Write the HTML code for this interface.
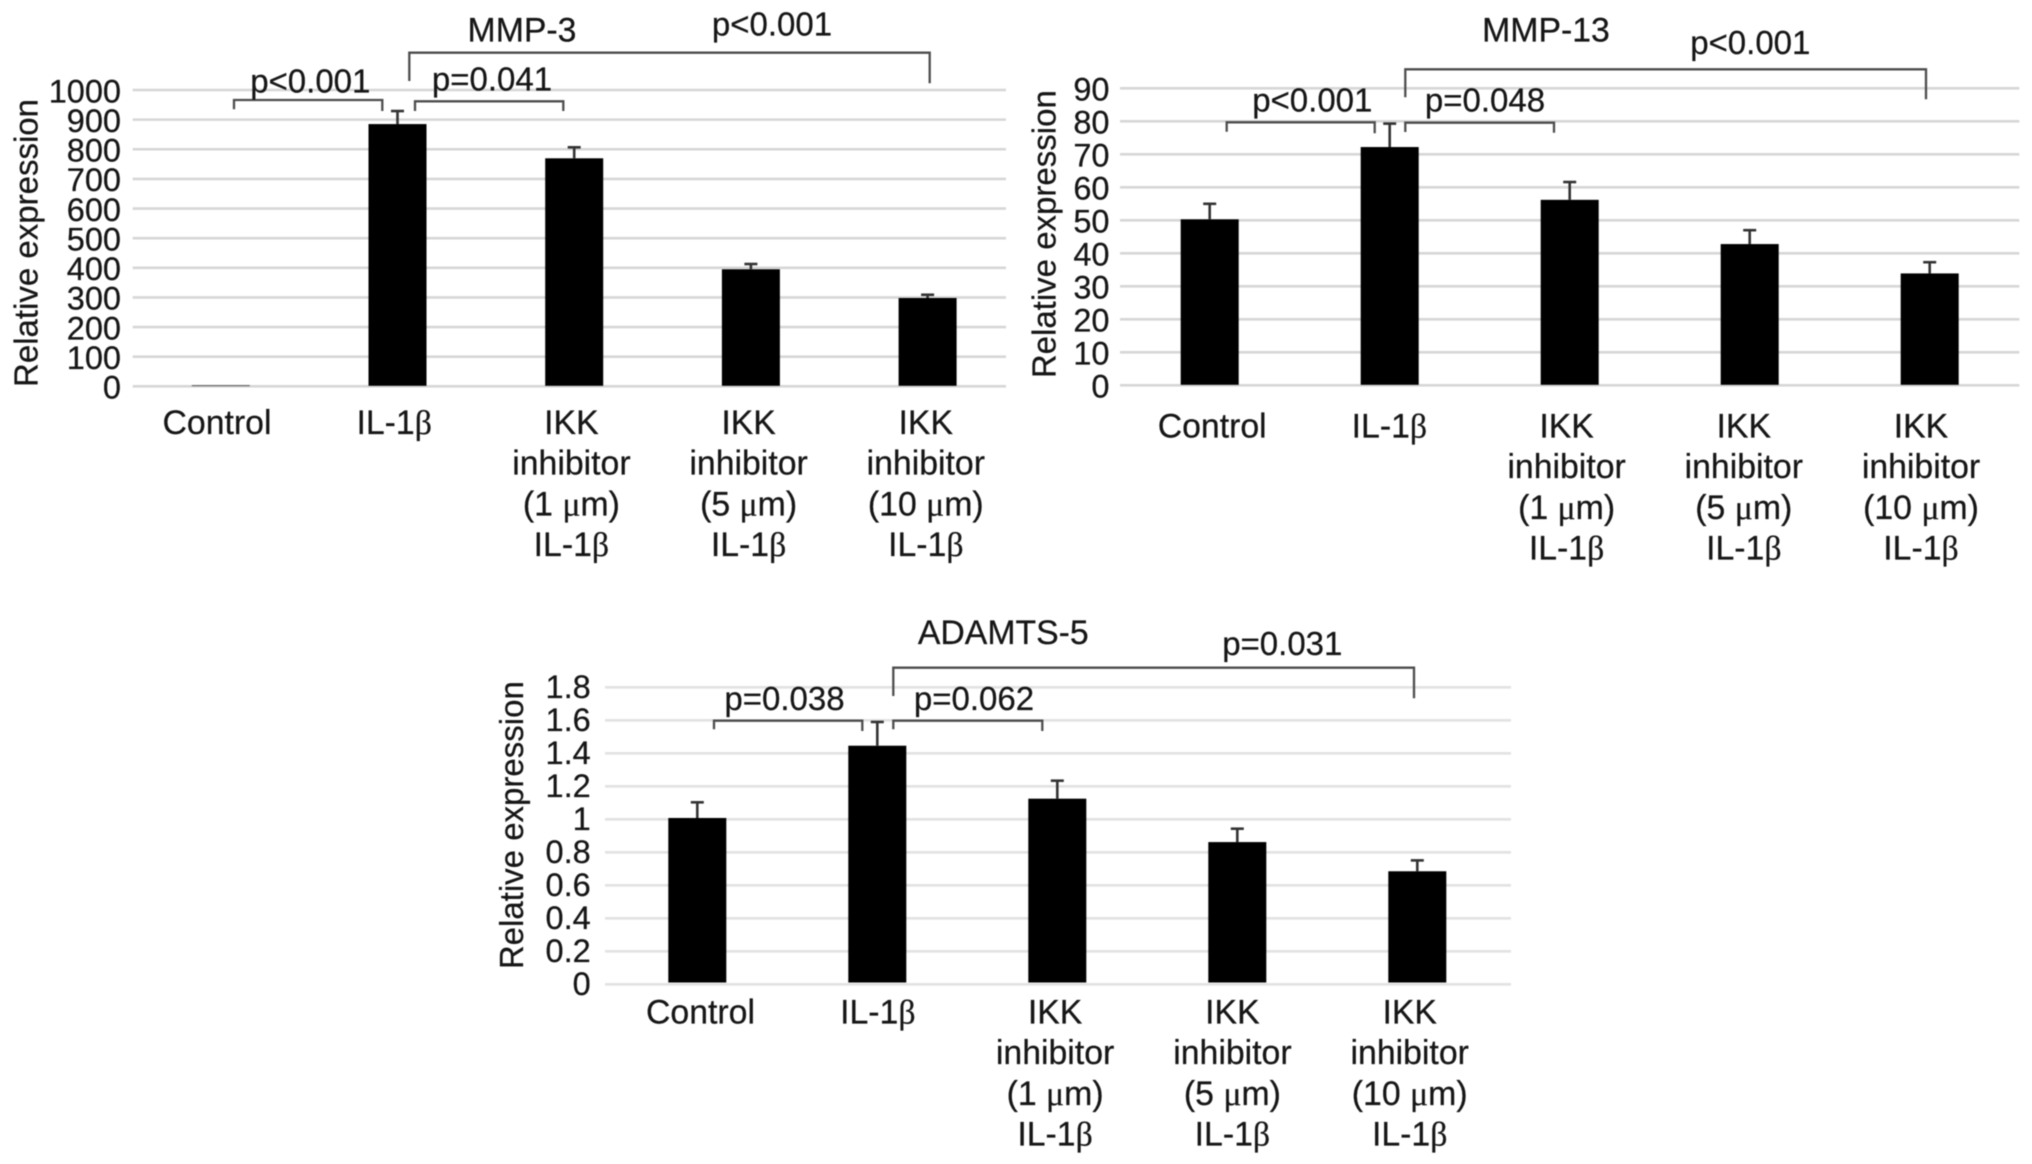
<!DOCTYPE html>
<html lang="en">
<head>
<meta charset="utf-8">
<title>Relative expression of MMP-3, MMP-13 and ADAMTS-5</title>
<style>
html,body{margin:0;padding:0;background:#fff;width:2032px;height:1164px;overflow:hidden}
svg{display:block;filter:blur(.6px)}
text{font-family:"Liberation Sans",sans-serif;fill:#161616;stroke:#161616;stroke-width:.25px;font-size:33.8px}
text.axt{font-size:33px}
text.pv{font-size:33px}
text.tick{font-size:32.5px}
.bk{fill:none;stroke:#4d4d4d;stroke-width:2.3}
</style>
</head>
<body>
<svg id="figure" xmlns="http://www.w3.org/2000/svg" width="2032" height="1164" viewBox="0 0 2032 1164">
  <rect width="2032" height="1164" fill="#fff"/>

  <g id="panel-mmp3"></g>
  <g id="panel-mmp13"></g>
  <g id="panel-adamts5"></g>

  <g>
    <text x="522" y="41.7" text-anchor="middle">MMP-3</text>
    <text class="axt" transform="translate(37.3 243) rotate(-90)" text-anchor="middle">Relative expression</text>
    <path class="bk" d="M234 109.3V100H382.3V111"/>
    <path class="bk" d="M415 111V101.3H563.3V111"/>
    <path class="bk" d="M409.3 81V52.7H929.7V83.3"/>
    <text class="pv" x="310.3" y="92.3" text-anchor="middle">p&lt;0.001</text>
    <text class="pv" x="492" y="90.7" text-anchor="middle">p=0.041</text>
    <text class="pv" x="772" y="35.7" text-anchor="middle">p&lt;0.001</text>
  </g>

  <g>
    <text x="1546" y="41.7" text-anchor="middle">MMP-13</text>
    <text class="axt" transform="translate(1055.5 234.2) rotate(-90)" text-anchor="middle">Relative expression</text>
    <path class="bk" d="M1226.7 131.7V122.3H1374.7V133.3"/>
    <path class="bk" d="M1405.3 132V122.7H1554V132.7"/>
    <path class="bk" d="M1405.3 97.3V69.3H1926V99.3"/>
    <text class="pv" x="1312.3" y="111.7" text-anchor="middle">p&lt;0.001</text>
    <text class="pv" x="1485" y="111.7" text-anchor="middle">p=0.048</text>
    <text class="pv" x="1750.3" y="54" text-anchor="middle">p&lt;0.001</text>
  </g>

  <g>
    <text x="1003.3" y="644" text-anchor="middle">ADAMTS-5</text>
    <text class="axt" transform="translate(523 825.2) rotate(-90)" text-anchor="middle">Relative expression</text>
    <path class="bk" d="M714 729.3V720.7H862.3V731"/>
    <path class="bk" d="M893.3 729.3V720.7H1042.3V731"/>
    <path class="bk" d="M893.3 696V667.7H1414V698.3"/>
    <text class="pv" x="784.5" y="710" text-anchor="middle">p=0.038</text>
    <text class="pv" x="974" y="710" text-anchor="middle">p=0.062</text>
    <text class="pv" x="1282.3" y="655" text-anchor="middle">p=0.031</text>
  </g>
</svg>

<script>
const categoryLabels = [
  ["Control"],
  ["IL-1β"],
  ["IKK", "inhibitor", "(1 μm)", "IL-1β"],
  ["IKK", "inhibitor", "(5 μm)", "IL-1β"],
  ["IKK", "inhibitor", "(10 μm)", "IL-1β"]
];

const mmp3Ticks = [0, 100, 200, 300, 400, 500, 600, 700, 800, 900, 1000];
const mmp3Values = [4.4, 885, 769.5, 395, 298];
const mmp3ErrorTops = [4.4, 929, 806.6, 412.7, 309];

const mmp13Ticks = [0, 10, 20, 30, 40, 50, 60, 70, 80, 90];
const mmp13Values = [50.3, 72.2, 56.2, 42.8, 33.9];
const mmp13ErrorTops = [55, 79.3, 61.6, 47, 37.3];

const adamtsTicks = [0, 0.2, 0.4, 0.6, 0.8, 1, 1.2, 1.4, 1.6, 1.8];
const adamtsValues = [1.008, 1.446, 1.125, 0.862, 0.685];
const adamtsErrorTops = [1.103, 1.59, 1.234, 0.943, 0.751];

const SVG_NS = "http://www.w3.org/2000/svg";

function make(parent, tag, attrs) {
  const el = document.createElementNS(SVG_NS, tag);
  for (const k in attrs) el.setAttribute(k, attrs[k]);
  parent.appendChild(el);
  return el;
}

function fillLabel(textEl, str) {
  // Greek letters in the source are set in a Times-like face.
  str.split(/([βμ])/).forEach(function (part) {
    if (!part) return;
    const span = document.createElementNS(SVG_NS, "tspan");
    if (part === "β" || part === "μ") span.setAttribute("style", 'font-family:"Liberation Serif",serif');
    span.textContent = part;
    textEl.appendChild(span);
  });
}

function drawPanel(opts) {
  const g = document.getElementById(opts.id);
  const ticks = opts.ticks;
  const maxTick = Math.max.apply(null, ticks);
  const yScale = function (v) { return opts.y0 - (v / maxTick) * (opts.y0 - opts.y1); };
  const xBar = function (i) { return opts.barX0 + i * opts.barStep; };
  const xLabel = function (i) { return opts.labelX0 + i * opts.labelStep; };

  ticks.forEach(function (t) {
    const line = make(g, "line", { x1: opts.gridL, x2: opts.gridR, y1: yScale(t), y2: yScale(t), stroke: opts.gridColor, "stroke-width": 2.6 });
    
    
    const label = make(g, "text", { class: "tick", x: opts.tickX, y: yScale(t) + opts.tickDy, "text-anchor": "end" });
    
    
    label.textContent = String(t);
  });

  opts.values.forEach(function (v, i) {
    const cx = xBar(i);
    const top = yScale(v);
    const bar = make(g, "rect", { x: cx - 29, y: top, width: 58, height: Math.max(opts.y0 - top - opts.barInset, 1.2), fill: opts.errorTops[i] > v ? "#000" : "#666" });
    
    
    if (opts.errorTops[i] > v) {
      const errTop = yScale(opts.errorTops[i]);
      const stem = make(g, "line", { x1: cx, x2: cx, y1: top, y2: errTop, stroke: "#333", "stroke-width": 2.6 });
      
      
      const cap = make(g, "line", { x1: cx - 6.5, x2: cx + 6.5, y1: errTop, y2: errTop, stroke: "#333", "stroke-width": 2.6 });
      
      
    }
  });

  categoryLabels.forEach(function (lines, i) {
    lines.forEach(function (str, j) {
      const label = make(g, "text", { x: xLabel(i), y: opts.labelY + j * 40.7, "text-anchor": "middle" });
      
      
      fillLabel(label, str);
    });
  });
}

drawPanel({
  id: "panel-mmp3", ticks: mmp3Ticks, values: mmp3Values, errorTops: mmp3ErrorTops,
  y0: 386.3, y1: 90, gridL: 132.7, gridR: 1006, gridColor: "#d6d6d6",
  barX0: 220.8, barStep: 176.7, barInset: 0.5, labelX0: 217, labelStep: 177.2, labelY: 434, tickX: 121, tickDy: 12.3
});
drawPanel({
  id: "panel-mmp13", ticks: mmp13Ticks, values: mmp13Values, errorTops: mmp13ErrorTops,
  y0: 385.3, y1: 88.3, gridL: 1120, gridR: 2019.3, gridColor: "#d6d6d6",
  barX0: 1209.7, barStep: 180, barInset: 0.5, labelX0: 1212.2, labelStep: 177.2, labelY: 437.5, tickX: 1109.5, tickDy: 12.3
});
drawPanel({
  id: "panel-adamts5", ticks: adamtsTicks, values: adamtsValues, errorTops: adamtsErrorTops,
  y0: 984.3, y1: 687.3, gridL: 605, gridR: 1511, gridColor: "#e2e2e2",
  barX0: 697.3, barStep: 180, barInset: 1.8, labelX0: 700.5, labelStep: 177.3, labelY: 1023.5, tickX: 590.7, tickDy: 10.8
});
</script>
</body>
</html>
